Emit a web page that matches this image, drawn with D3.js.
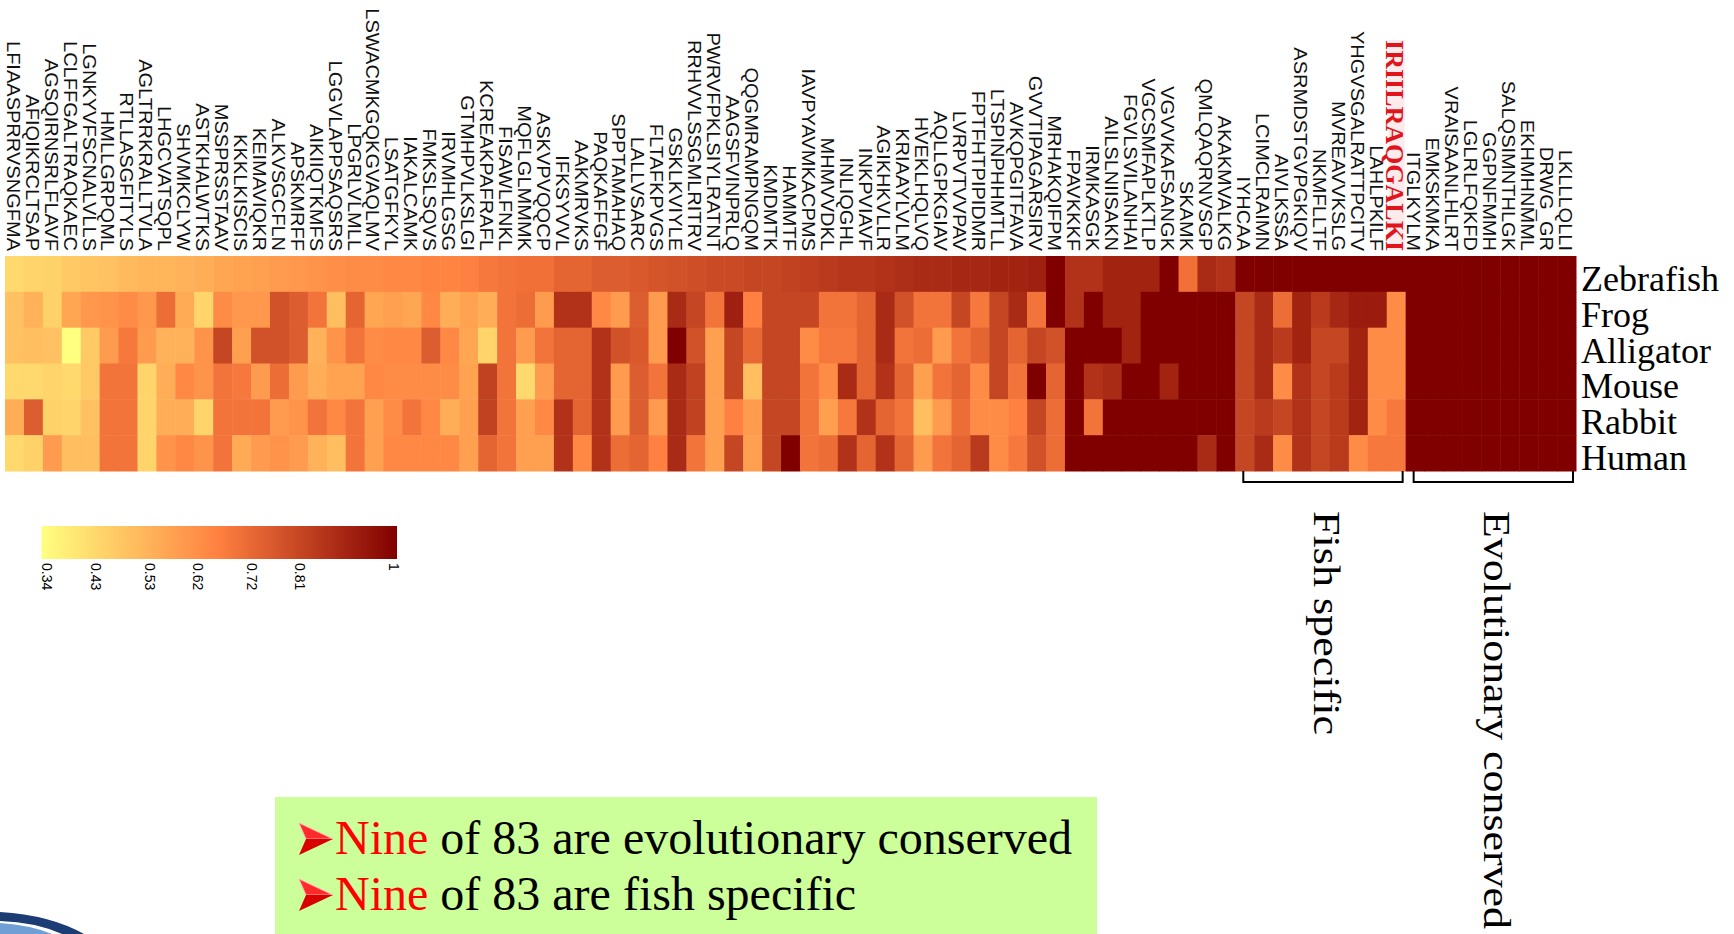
<!DOCTYPE html>
<html>
<head>
<meta charset="utf-8">
<script src="https://cdn.jsdelivr.net/npm/d3@7"></script>
<style>
  body { margin: 0; background: #fff; }
  svg { display: block; }
  .col-label { font-family: "Liberation Sans", Arial, sans-serif; font-size: 19px; fill: #111; }
  .row-label { font-family: "Liberation Serif", "Times New Roman", serif; font-size: 36px; fill: #000; }
  .tick-label { font-family: "Liberation Sans", Arial, sans-serif; font-size: 14px; fill: #000; }
  .group-label { font-family: "Liberation Serif", "Times New Roman", serif; font-size: 38px; fill: #000; }
  .note { font-family: "Liberation Serif", "Times New Roman", serif; font-size: 48px; fill: #000; }
</style>
</head>
<body>
<div id="chart"></div>
<script>
// Peptide conservation heatmap across six species

var w = 1734, h = 934;

var peptides = ["LFIAASPRRVSNGFMA", "AFIQIKRCLTSAP", "AGSQIRNSRLFLAVF", "LCLFFGALTRAQKAEC",
  "LGNKYVFSCNALVLLS", "HMLLGRPQML", "RTLLASGFITYLS", "AGLTRRKRALLTVLA", "LHGCVATSQPL",
  "SHVMKCLYW", "ASTKHALWTKS", "MSSPRSSTAAV", "KKKLKISCIS", "KEIMAVIQKR", "ALKVSGCFLN",
  "APSKMRFF", "AIKIIQTKMFS", "LGGVLAPPSAQSRS", "LPGRLVLMLL", "LSWACMKGQKGVAQLMV",
  "LSATGFKYL", "IAKALCAMK", "FMKSLSQVS", "IRVMHLGSG", "GTMHPVLKSLGI", "KCREAKPAFRAFL",
  "FISAWLFNKL", "MQFLGLMMMK", "ASKVPVQQCP", "IFKSYVVL", "AAKMRVKS", "PAQKAFFGF",
  "SPPTAMAHAQ", "LALLVSARC", "FLTAFKPVGS", "GSKLKVIYLE", "RRHVVLSSGMLRITRV",
  "PWRVFPKLSIYLRATNT", "AAGSFVINPRLQ", "QQGMRAMPNGQM", "KMDMTK", "HAMMTF",
  "IAVPYAVMKACPMS", "MHMVVDKL", "INLIQGHL", "INKPVIAVF", "AGIKHKVLLR", "KRIAAYLVLM",
  "HVEKLHQLVQ", "AQLLGPKGIAV", "LVRPVTVVPAV", "FPTFHTPIPIDMR", "LTSPINPHHMTLL",
  "AVKQPGITFAVA", "GVVTIPAGARSIRV", "MRHAKQIFPM", "FPAVKKKF", "IRMKASGK", "AILSLNIISAKN",
  "FGVLSVILANHAI", "VGCSMFAPLKTLP", "VGVVKAFSANGK", "SKAMK", "QMLQAQRNVSGP", "AKAKMVALKG",
  "IYHCAA", "LCIMCLRAIMN", "AIVLKSSA", "ASRMDSTGVPGKIQV", "NKMFLLTF", "MVREAVVKSLG",
  "YHGVSGALRATTPCITV", "LAHLPKILF", "IRIILRAQGALKI", "ITGLKYLM", "EMKSKMKA",
  "VRAISAANLHLRT", "LGLRLFQKFD", "GGPNFMMH", "SALQSIMNTHLGK", "EKHMHNMML", "DRWG_GR",
  "LKLLLQLLI"];

var highlighted = "IRIILRAQGALKI";

var species = ["Zebrafish", "Frog", "Alligator", "Mouse", "Rabbit", "Human"];

var zebrafish = [0.44, 0.45, 0.46, 0.48, 0.49, 0.50, 0.52, 0.53, 0.53, 0.54, 0.55, 0.57, 0.58, 0.59,
  0.60, 0.61, 0.62, 0.63, 0.64, 0.64, 0.65, 0.65, 0.66, 0.66, 0.67, 0.69, 0.70, 0.71, 0.71, 0.74,
  0.74, 0.76, 0.76, 0.77, 0.78, 0.79, 0.80, 0.81, 0.81, 0.82, 0.82, 0.83,
  0.84, 0.85, 0.86, 0.86, 0.87, 0.88, 0.89, 0.89, 0.90, 0.90, 0.91, 0.91, 0.92, 1, 0.87, 0.87,
  0.91, 0.91, 0.91, 1, 0.71, 0.89, 0.87,
  1, 1, 1, 1, 1, 1, 1, 1, 1, 1, 1, 1, 1, 1, 1, 1, 1, 1];

var frog = [0.50, 0.54, 0.46, 0.57, 0.61, 0.62, 0.64, 0.61, 0.72, 0.56, 0.45, 0.64, 0.61, 0.61,
  0.79, 0.76, 0.70, 0.51, 0.74, 0.57, 0.59, 0.57, 0.65, 0.55, 0.58, 0.55, 0.70, 0.72, 0.60, 0.87,
  0.87, 0.65, 0.60, 0.76, 0.60, 0.89, 0.82, 0.70, 0.92, 0.67, 0.82, 0.82,
  0.82, 0.70, 0.70, 0.74, 0.89, 0.79, 0.70, 0.70, 0.82, 0.69, 0.82, 0.89, 0.70, 1, 0.87, 1,
  0.91, 0.91, 1, 1, 1, 1, 1,
  0.82, 0.89, 0.72, 0.91, 0.85, 0.90, 0.93, 0.93, 0.64,
  1, 1, 1, 1, 1, 1, 1, 1, 1];

var alligator = [0.50, 0.51, 0.50, 0.34, 0.48, 0.60, 0.69, 0.60, 0.54, 0.54, 0.62, 0.82, 0.59, 0.79,
  0.79, 0.76, 0.54, 0.62, 0.70, 0.64, 0.65, 0.65, 0.76, 0.65, 0.57, 0.45, 0.70, 0.60, 0.70, 0.74,
  0.74, 0.87, 0.79, 0.77, 0.60, 1, 0.79, 0.59, 0.82, 0.73, 0.82, 0.82,
  0.64, 0.69, 0.69, 0.74, 0.89, 0.70, 0.72, 0.60, 0.70, 0.74, 0.82, 0.74, 0.82, 0.79, 1, 1,
  1, 0.91, 1, 1, 1, 1, 1,
  0.82, 0.89, 0.85, 0.91, 0.82, 0.82, 0.91, 0.64, 0.64,
  1, 1, 1, 1, 1, 1, 1, 1, 1];

var mouse = [0.44, 0.44, 0.45, 0.44, 0.48, 0.70, 0.70, 0.45, 0.55, 0.65, 0.62, 0.70, 0.69, 0.60,
  0.72, 0.60, 0.55, 0.58, 0.58, 0.65, 0.64, 0.64, 0.64, 0.64, 0.58, 0.83, 0.70, 0.44, 0.60, 0.74,
  0.74, 0.87, 0.60, 0.76, 0.70, 0.89, 0.83, 0.59, 0.82, 0.51, 0.82, 0.82,
  0.70, 0.64, 0.89, 0.74, 0.87, 0.74, 0.59, 0.70, 0.74, 0.64, 0.82, 0.70, 1, 0.74, 1, 0.87,
  0.89, 1, 1, 0.91, 1, 1, 1,
  0.82, 0.89, 0.64, 0.87, 0.82, 0.85, 0.91, 0.64, 0.64,
  1, 1, 1, 1, 1, 1, 1, 1, 1];

var rabbit = [0.55, 0.76, 0.46, 0.45, 0.50, 0.70, 0.70, 0.45, 0.55, 0.55, 0.45, 0.70, 0.70, 0.70,
  0.60, 0.62, 0.70, 0.65, 0.70, 0.59, 0.64, 0.70, 0.65, 0.55, 0.59, 0.83, 0.70, 0.59, 0.65, 0.87,
  0.74, 0.87, 0.60, 0.76, 0.60, 0.89, 0.83, 0.59, 0.67, 0.60, 0.82, 0.82,
  0.70, 0.59, 0.69, 0.87, 0.74, 0.70, 0.51, 0.60, 0.72, 0.64, 0.64, 0.67, 0.82, 0.72, 1, 0.70,
  1, 1, 1, 1, 1, 1, 1,
  0.82, 0.85, 0.82, 0.87, 0.82, 0.85, 0.91, 0.64, 0.69,
  1, 1, 1, 1, 1, 1, 1, 1, 1];

var human = [0.44, 0.46, 0.60, 0.51, 0.51, 0.70, 0.70, 0.45, 0.62, 0.65, 0.62, 0.70, 0.56, 0.60,
  0.62, 0.60, 0.54, 0.51, 0.70, 0.59, 0.65, 0.65, 0.65, 0.65, 0.59, 0.74, 0.70, 0.59, 0.59, 0.87,
  0.65, 0.87, 0.72, 0.74, 0.67, 0.89, 0.70, 0.59, 0.82, 0.59, 0.82, 1,
  0.70, 0.72, 0.87, 0.74, 0.87, 0.74, 0.60, 0.70, 0.74, 0.85, 0.64, 0.69, 0.79, 0.72, 1, 1,
  1, 1, 1, 1, 1, 0.89, 1,
  0.82, 0.89, 0.64, 0.87, 0.82, 0.85, 0.64, 0.69, 0.69,
  1, 1, 1, 1, 1, 1, 1, 1, 1];

var rows = [zebrafish, frog, alligator, mouse, rabbit, human];

var legendTicks = [0.34, 0.43, 0.53, 0.62, 0.72, 0.81, 1];

// bracketed groups under the map: [first peptide, last peptide, label]
var groups = [["IYHCAA", "IRIILRAQGALKI", "Fish specific"],
  ["ITGLKYLM", "LKLLLQLLI", "Evolutionary conserved"]];

var svg = d3.select("#chart").append("svg")
  .attr("width", w)
  .attr("height", h);

var x = d3.scaleBand()
  .domain(peptides)
  .range([5, 1576]);

var y = d3.scaleBand()
  .domain(species)
  .range([256, 471]);

var color = d3.scaleLinear()
  .domain([0.34, 0.67, 1])
  .range(["#ffff80", "#ff8040", "#800000"]);

var cells = [];
rows.forEach(function(r, i) {
  r.forEach(function(v, j) {
    cells.push({ species: species[i], peptide: peptides[j], value: v });
  });
});

svg.append("g").selectAll("rect")
  .data(cells)
.enter().append("rect")
  .attr("x", function(d) { return x(d.peptide); })
  .attr("y", function(d) { return y(d.species); })
  .attr("width", x.bandwidth() + 0.5)
  .attr("height", y.bandwidth() + 0.5)
  .style("fill", function(d) { return color(d.value); });

// faint highlight behind the red peptide
svg.append("rect")
  .attr("x", x(highlighted) + 2)
  .attr("y", 40)
  .attr("width", x.bandwidth() - 3)
  .attr("height", 210)
  .style("fill", "#fdeaea");

svg.append("g").selectAll("text")
  .data(peptides)
.enter().append("text")
  .attr("class", "col-label")
  .attr("transform", function(d) {
    var s = d == highlighted ? "" : " scale(1.055,1)";
    return "translate(" + (x(d) + x.bandwidth() / 2 - 1) + ",251) rotate(90)" + s; })
  .attr("dy", ".35em")
  .attr("text-anchor", "end")
  .style("font-family", function(d) { return d == highlighted ? "'Liberation Serif', serif" : null; })
  .style("font-weight", function(d) { return d == highlighted ? "bold" : null; })
  .style("font-size", function(d) { return d == highlighted ? "26px" : null; })
  .style("fill", function(d) { return d == highlighted ? "#e0141c" : null; })
  .text(String);

svg.append("g").selectAll("text")
  .data(species)
.enter().append("text")
  .attr("class", "row-label")
  .attr("x", 1581)
  .attr("y", function(d) { return y(d) + y.bandwidth() / 2; })
  .attr("dy", ".47em")
  .text(String);

// brackets
var gb = svg.selectAll(".group")
  .data(groups)
.enter().append("g")
  .attr("class", "group");

gb.append("path")
  .attr("d", function(d) {
    var a = x(d[0]) + 8, b = x(d[1]) + x.bandwidth() - 3;
    return "M" + a + ",471V482H" + b + "V471";
  })
  .style("fill", "none")
  .style("stroke", "#000")
  .style("stroke-width", 2);

gb.append("text")
  .attr("class", "group-label")
  .attr("transform", function(d) {
    var a = x(d[0]), b = x(d[1]) + x.bandwidth();
    return "translate(" + ((a + b) / 2 + 2) + ",511) rotate(90)";
  })
  .attr("dy", ".23em")
  .attr("textLength", function(d, i) { return i == 0 ? 224 : 418; })
  .attr("lengthAdjust", "spacingAndGlyphs")
  .text(function(d) { return d[2]; });

// colour key
var lx = d3.scaleLinear()
  .domain([0.34, 1])
  .range([41.5, 397]);

var grad = svg.append("defs").append("linearGradient")
  .attr("id", "key")
  .attr("x1", "0%").attr("x2", "100%");

grad.selectAll("stop")
  .data(d3.range(0, 1.0001, 0.05))
.enter().append("stop")
  .attr("offset", function(d) { return d * 100 + "%"; })
  .attr("stop-color", function(d) { return color(0.34 + d * 0.66); });

svg.append("rect")
  .attr("x", lx(0.34))
  .attr("y", 526)
  .attr("width", lx(1) - lx(0.34))
  .attr("height", 33)
  .style("fill", "url(#key)");

svg.append("g").selectAll("text")
  .data(legendTicks)
.enter().append("text")
  .attr("class", "tick-label")
  .attr("transform", function(d) { return "translate(" + (lx(d) + (d == 1 ? -9 : 0)) + ",563) rotate(90)"; })
  .attr("dy", "-.05em")
  .text(String);

// note box
svg.append("rect")
  .attr("x", 275)
  .attr("y", 797)
  .attr("width", 822)
  .attr("height", 137)
  .style("fill", "#ccff99");

var notes = ["of 83 are evolutionary conserved", "of 83 are fish specific"];

var ng = svg.selectAll(".note")
  .data(notes)
.enter().append("g")
  .attr("class", "note")
  .attr("transform", function(d, i) { return "translate(299," + (854 + i * 56) + ")"; });

// 3-D arrowhead bullet
ng.append("path")
  .attr("d", "M0,-31L34,-15L7,-15Z")
  .style("fill", "#ff2a2a")
  .style("stroke", "#ffb0b0")
  .style("stroke-width", 1);
ng.append("path")
  .attr("d", "M7,-15L34,-15L0,1Z")
  .style("fill", "#d80000");

var nt = ng.append("text")
  .attr("x", 36);

nt.append("tspan")
  .style("fill", "#ff0000")
  .text("Nine ");

nt.append("tspan")
  .text(String);

// slide corner swoosh
svg.append("path")
  .attr("d", "M0,912 Q50,915 84,934 L62,934 Q35,922 0,921 Z")
  .style("fill", "#1c3d73");
svg.append("path")
  .attr("d", "M0,923 Q30,925 52,934 L0,934 Z")
  .style("fill", "#6f9fd4");
</script>
</body>
</html>
